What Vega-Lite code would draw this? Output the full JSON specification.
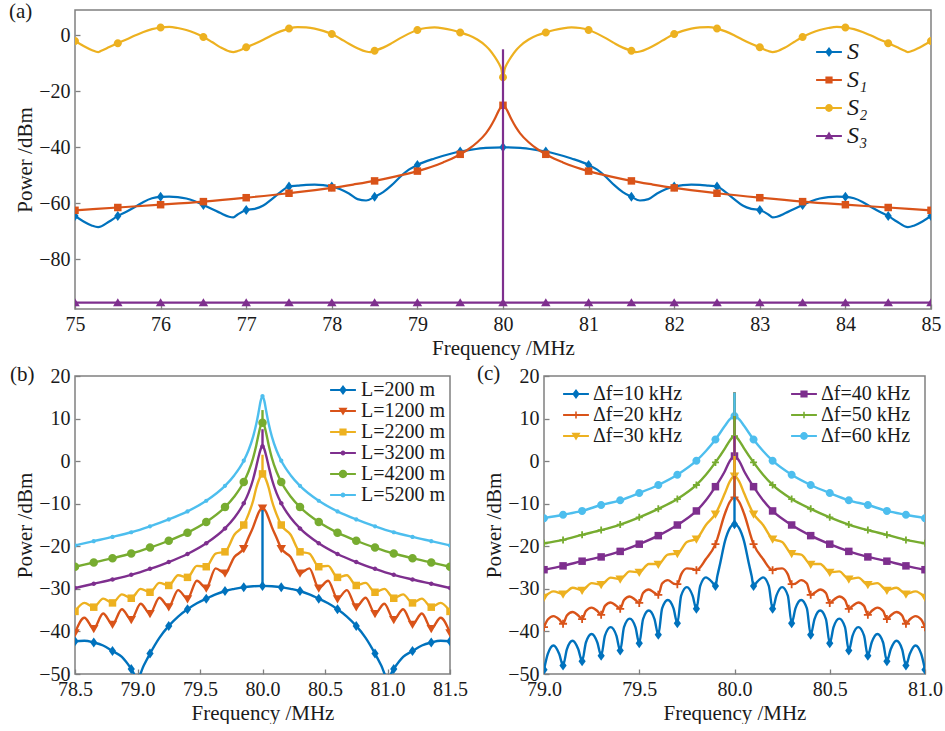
{
"$schema": "https://vega.github.io/schema/vega-lite/v6.json",
"background": "white",
"padding": {"left": 8, "top": 0, "right": 0, "bottom": 0},
"spacing": 3,
"resolve": {"scale": {"color": "independent", "shape": "independent"}, "legend": {"color": "independent", "shape": "independent"}},
"config": {
  "font": "Liberation Serif",
  "view": {"stroke": "#808080", "strokeWidth": 1.5},
  "axis": {"grid": false, "domain": false, "ticks": true, "tickSize": -5, "tickColor": "#808080", "tickWidth": 1.3,
    "labelFont": "Liberation Serif", "labelFontSize": 20, "labelColor": "#1a1a1a", "labelPadding": 10,
    "titleFont": "Liberation Serif", "titleFontSize": 21, "titleFontWeight": "normal", "titleColor": "#1a1a1a", "titlePadding": 3,
    "labelFlush": false, "labelOverlap": false},
  "legend": {"padding": 0, "symbolSize": 144, "labelFont": "Liberation Serif", "labelColor": "#1a1a1a", "labelOffset": 10, "symbolOpacity": 1, "symbolStrokeWidth": 0},
  "title": {"anchor": "start", "frame": "group", "font": "Liberation Serif", "fontSize": 21, "fontWeight": "normal", "color": "#1a1a1a", "baseline": "alphabetic"}
},
"datasets": {
"a": [
{"s":"S","f":75.0,"p":-64.5},{"s":"S","f":75.1,"p":-66.5},{"s":"S","f":75.2,"p":-68},{"s":"S","f":75.27,"p":-68.5},{"s":"S","f":75.4,"p":-66.5},{"s":"S","f":75.5,"p":-64.5},{"s":"S","f":75.6,"p":-63},{"s":"S","f":75.7,"p":-61.3},{"s":"S","f":75.8,"p":-59.5},{"s":"S","f":75.9,"p":-58.2},{"s":"S","f":76.0,"p":-57.7},{"s":"S","f":76.1,"p":-57.6},{"s":"S","f":76.2,"p":-57.8},{"s":"S","f":76.3,"p":-58.3},{"s":"S","f":76.4,"p":-59.3},{"s":"S","f":76.5,"p":-60.6},{"s":"S","f":76.6,"p":-62},{"s":"S","f":76.7,"p":-63.5},{"s":"S","f":76.8,"p":-64.8},{"s":"S","f":76.85,"p":-65},{"s":"S","f":76.9,"p":-64},{"s":"S","f":77.0,"p":-62.4},{"s":"S","f":77.1,"p":-62},{"s":"S","f":77.2,"p":-60.8},{"s":"S","f":77.3,"p":-58.5},{"s":"S","f":77.4,"p":-56},{"s":"S","f":77.5,"p":-54},{"s":"S","f":77.6,"p":-53.7},{"s":"S","f":77.7,"p":-53.4},{"s":"S","f":77.8,"p":-53.3},{"s":"S","f":77.9,"p":-53.5},{"s":"S","f":78.0,"p":-54},{"s":"S","f":78.1,"p":-55},{"s":"S","f":78.2,"p":-56.5},{"s":"S","f":78.3,"p":-58.5},{"s":"S","f":78.4,"p":-59},{"s":"S","f":78.5,"p":-57.7},{"s":"S","f":78.6,"p":-56},{"s":"S","f":78.7,"p":-53.5},{"s":"S","f":78.8,"p":-50.5},{"s":"S","f":78.9,"p":-48},{"s":"S","f":79.0,"p":-46.3},{"s":"S","f":79.2,"p":-44},{"s":"S","f":79.4,"p":-42.2},{"s":"S","f":79.5,"p":-41.5},{"s":"S","f":79.6,"p":-41},{"s":"S","f":79.8,"p":-40.2},{"s":"S","f":80.0,"p":-40},
{"s":"S","f":80.2,"p":-40.2},{"s":"S","f":80.4,"p":-41},{"s":"S","f":80.5,"p":-41.5},{"s":"S","f":80.6,"p":-42.2},{"s":"S","f":80.8,"p":-44},{"s":"S","f":81.0,"p":-46.3},{"s":"S","f":81.1,"p":-48},{"s":"S","f":81.2,"p":-50.5},{"s":"S","f":81.3,"p":-53.5},{"s":"S","f":81.4,"p":-56},{"s":"S","f":81.5,"p":-57.7},{"s":"S","f":81.6,"p":-59},{"s":"S","f":81.7,"p":-58.5},{"s":"S","f":81.8,"p":-56.5},{"s":"S","f":81.9,"p":-55},{"s":"S","f":82.0,"p":-54},{"s":"S","f":82.1,"p":-53.5},{"s":"S","f":82.2,"p":-53.3},{"s":"S","f":82.3,"p":-53.4},{"s":"S","f":82.4,"p":-53.7},{"s":"S","f":82.5,"p":-54},{"s":"S","f":82.6,"p":-56},{"s":"S","f":82.7,"p":-58.5},{"s":"S","f":82.8,"p":-60.8},{"s":"S","f":82.9,"p":-62},{"s":"S","f":83.0,"p":-62.4},{"s":"S","f":83.1,"p":-64},{"s":"S","f":83.15,"p":-65},{"s":"S","f":83.2,"p":-64.8},{"s":"S","f":83.3,"p":-63.5},{"s":"S","f":83.4,"p":-62},{"s":"S","f":83.5,"p":-60.6},{"s":"S","f":83.6,"p":-59.3},{"s":"S","f":83.7,"p":-58.3},{"s":"S","f":83.8,"p":-57.8},{"s":"S","f":83.9,"p":-57.6},{"s":"S","f":84.0,"p":-57.7},{"s":"S","f":84.1,"p":-58.2},{"s":"S","f":84.2,"p":-59.5},{"s":"S","f":84.3,"p":-61.3},{"s":"S","f":84.4,"p":-63},{"s":"S","f":84.5,"p":-64.5},{"s":"S","f":84.6,"p":-66.5},{"s":"S","f":84.73,"p":-68.5},{"s":"S","f":84.8,"p":-68},{"s":"S","f":84.9,"p":-66.5},{"s":"S","f":85.0,"p":-64.5},
{"s":"S₁","f":75.0,"p":-62.5},{"s":"S₁","f":75.5,"p":-61.5},{"s":"S₁","f":76.0,"p":-60.5},{"s":"S₁","f":76.5,"p":-59.4},{"s":"S₁","f":77.0,"p":-58},{"s":"S₁","f":77.5,"p":-56.4},{"s":"S₁","f":78.0,"p":-54.5},{"s":"S₁","f":78.25,"p":-53.3},{"s":"S₁","f":78.5,"p":-52},{"s":"S₁","f":78.75,"p":-50.4},{"s":"S₁","f":79.0,"p":-48.5},{"s":"S₁","f":79.1,"p":-47.6},{"s":"S₁","f":79.2,"p":-46.6},{"s":"S₁","f":79.3,"p":-45.4},{"s":"S₁","f":79.4,"p":-44.1},{"s":"S₁","f":79.5,"p":-42.5},{"s":"S₁","f":79.6,"p":-40.6},{"s":"S₁","f":79.7,"p":-38.2},{"s":"S₁","f":79.8,"p":-35},{"s":"S₁","f":79.85,"p":-32.8},{"s":"S₁","f":79.9,"p":-30.1},{"s":"S₁","f":79.95,"p":-26.9},{"s":"S₁","f":79.98,"p":-25.4},{"s":"S₁","f":80.0,"p":-25},{"s":"S₁","f":80.02,"p":-25.4},{"s":"S₁","f":80.05,"p":-26.9},{"s":"S₁","f":80.1,"p":-30.1},{"s":"S₁","f":80.15,"p":-32.8},{"s":"S₁","f":80.2,"p":-35},{"s":"S₁","f":80.3,"p":-38.2},{"s":"S₁","f":80.4,"p":-40.6},{"s":"S₁","f":80.5,"p":-42.5},{"s":"S₁","f":80.6,"p":-44.1},{"s":"S₁","f":80.7,"p":-45.4},{"s":"S₁","f":80.8,"p":-46.6},{"s":"S₁","f":80.9,"p":-47.6},{"s":"S₁","f":81.0,"p":-48.5},{"s":"S₁","f":81.25,"p":-50.4},{"s":"S₁","f":81.5,"p":-52},{"s":"S₁","f":81.75,"p":-53.3},{"s":"S₁","f":82.0,"p":-54.5},{"s":"S₁","f":82.5,"p":-56.4},{"s":"S₁","f":83.0,"p":-58},{"s":"S₁","f":83.5,"p":-59.4},{"s":"S₁","f":84.0,"p":-60.5},{"s":"S₁","f":84.5,"p":-61.5},{"s":"S₁","f":85.0,"p":-62.5},
{"s":"S₂","f":75.0,"p":-2.0},{"s":"S₂","f":75.1,"p":-3.8},{"s":"S₂","f":75.2,"p":-5.3},{"s":"S₂","f":75.27,"p":-6.0},{"s":"S₂","f":75.3,"p":-5.6},{"s":"S₂","f":75.4,"p":-4.2},{"s":"S₂","f":75.5,"p":-2.8},{"s":"S₂","f":75.6,"p":-1.5},{"s":"S₂","f":75.7,"p":-0.1},{"s":"S₂","f":75.8,"p":1.2},{"s":"S₂","f":75.9,"p":2.2},{"s":"S₂","f":76.0,"p":2.8},{"s":"S₂","f":76.1,"p":3.0},{"s":"S₂","f":76.2,"p":2.6},{"s":"S₂","f":76.3,"p":1.9},{"s":"S₂","f":76.4,"p":0.8},{"s":"S₂","f":76.5,"p":-0.6},{"s":"S₂","f":76.6,"p":-2.4},{"s":"S₂","f":76.7,"p":-4.3},{"s":"S₂","f":76.8,"p":-5.7},{"s":"S₂","f":76.85,"p":-6.0},{"s":"S₂","f":76.9,"p":-5.6},{"s":"S₂","f":77.0,"p":-4.3},{"s":"S₂","f":77.1,"p":-3.0},{"s":"S₂","f":77.2,"p":-1.6},{"s":"S₂","f":77.3,"p":0.0},{"s":"S₂","f":77.4,"p":1.4},{"s":"S₂","f":77.5,"p":2.4},{"s":"S₂","f":77.6,"p":2.9},{"s":"S₂","f":77.7,"p":2.8},{"s":"S₂","f":77.8,"p":2.4},{"s":"S₂","f":77.9,"p":1.6},{"s":"S₂","f":78.0,"p":0.5},{"s":"S₂","f":78.1,"p":-1.2},{"s":"S₂","f":78.2,"p":-3.0},{"s":"S₂","f":78.3,"p":-4.6},{"s":"S₂","f":78.4,"p":-5.8},{"s":"S₂","f":78.45,"p":-6.0},{"s":"S₂","f":78.5,"p":-5.5},{"s":"S₂","f":78.6,"p":-4.4},{"s":"S₂","f":78.7,"p":-2.8},{"s":"S₂","f":78.8,"p":-1.0},{"s":"S₂","f":78.9,"p":0.6},{"s":"S₂","f":79.0,"p":1.9},{"s":"S₂","f":79.1,"p":2.6},{"s":"S₂","f":79.2,"p":2.8},{"s":"S₂","f":79.3,"p":2.5},{"s":"S₂","f":79.4,"p":1.9},{"s":"S₂","f":79.5,"p":1.0},{"s":"S₂","f":79.6,"p":0.0},{"s":"S₂","f":79.7,"p":-1.5},{"s":"S₂","f":79.8,"p":-3.8},{"s":"S₂","f":79.85,"p":-5.4},{"s":"S₂","f":79.9,"p":-7.5},{"s":"S₂","f":79.95,"p":-10},{"s":"S₂","f":79.98,"p":-12},{"s":"S₂","f":80.0,"p":-15},
{"s":"S₂","f":80.02,"p":-12},{"s":"S₂","f":80.05,"p":-10},{"s":"S₂","f":80.1,"p":-7.5},{"s":"S₂","f":80.15,"p":-5.4},{"s":"S₂","f":80.2,"p":-3.8},{"s":"S₂","f":80.3,"p":-1.5},{"s":"S₂","f":80.4,"p":0.0},{"s":"S₂","f":80.5,"p":1.0},{"s":"S₂","f":80.6,"p":1.9},{"s":"S₂","f":80.7,"p":2.5},{"s":"S₂","f":80.8,"p":2.8},{"s":"S₂","f":80.9,"p":2.6},{"s":"S₂","f":81.0,"p":1.9},{"s":"S₂","f":81.1,"p":0.6},{"s":"S₂","f":81.2,"p":-1.0},{"s":"S₂","f":81.3,"p":-2.8},{"s":"S₂","f":81.4,"p":-4.4},{"s":"S₂","f":81.5,"p":-5.5},{"s":"S₂","f":81.55,"p":-6.0},{"s":"S₂","f":81.6,"p":-5.8},{"s":"S₂","f":81.7,"p":-4.6},{"s":"S₂","f":81.8,"p":-3.0},{"s":"S₂","f":81.9,"p":-1.2},{"s":"S₂","f":82.0,"p":0.5},{"s":"S₂","f":82.1,"p":1.6},{"s":"S₂","f":82.2,"p":2.4},{"s":"S₂","f":82.3,"p":2.8},{"s":"S₂","f":82.4,"p":2.9},{"s":"S₂","f":82.5,"p":2.4},{"s":"S₂","f":82.6,"p":1.4},{"s":"S₂","f":82.7,"p":0.0},{"s":"S₂","f":82.8,"p":-1.6},{"s":"S₂","f":82.9,"p":-3.0},{"s":"S₂","f":83.0,"p":-4.3},{"s":"S₂","f":83.1,"p":-5.6},{"s":"S₂","f":83.15,"p":-6.0},{"s":"S₂","f":83.2,"p":-5.7},{"s":"S₂","f":83.3,"p":-4.3},{"s":"S₂","f":83.4,"p":-2.4},{"s":"S₂","f":83.5,"p":-0.6},{"s":"S₂","f":83.6,"p":0.8},{"s":"S₂","f":83.7,"p":1.9},{"s":"S₂","f":83.8,"p":2.6},{"s":"S₂","f":83.9,"p":3.0},{"s":"S₂","f":84.0,"p":2.8},{"s":"S₂","f":84.1,"p":2.2},{"s":"S₂","f":84.2,"p":1.2},{"s":"S₂","f":84.3,"p":-0.1},{"s":"S₂","f":84.4,"p":-1.5},{"s":"S₂","f":84.5,"p":-2.8},{"s":"S₂","f":84.6,"p":-4.2},{"s":"S₂","f":84.7,"p":-5.6},{"s":"S₂","f":84.73,"p":-6.0},{"s":"S₂","f":84.8,"p":-5.3},{"s":"S₂","f":84.9,"p":-3.8},{"s":"S₂","f":85.0,"p":-2.0},
{"s":"S₃","f":75.0,"p":-95.5},{"s":"S₃","f":75.5,"p":-95.5},{"s":"S₃","f":76.0,"p":-95.5},{"s":"S₃","f":76.5,"p":-95.5},{"s":"S₃","f":77.0,"p":-95.5},{"s":"S₃","f":77.5,"p":-95.5},{"s":"S₃","f":78.0,"p":-95.5},{"s":"S₃","f":78.5,"p":-95.5},{"s":"S₃","f":79.0,"p":-95.5},{"s":"S₃","f":79.5,"p":-95.5},{"s":"S₃","f":80.0,"p":-95.5},{"s":"S₃","f":80.5,"p":-95.5},{"s":"S₃","f":81.0,"p":-95.5},{"s":"S₃","f":81.5,"p":-95.5},{"s":"S₃","f":82.0,"p":-95.5},{"s":"S₃","f":82.5,"p":-95.5},{"s":"S₃","f":83.0,"p":-95.5},{"s":"S₃","f":83.5,"p":-95.5},{"s":"S₃","f":84.0,"p":-95.5},{"s":"S₃","f":84.5,"p":-95.5},{"s":"S₃","f":85.0,"p":-95.5}
],
"aSpike": [{"s":"S₃","f":80,"p":-95.5,"p2":-5}],
"b": [
{"s":"200","f":78.5,"p":-42.3},{"s":"200","f":78.575,"p":-42.2},{"s":"200","f":78.65,"p":-42.6},{"s":"200","f":78.725,"p":-43.3},{"s":"200","f":78.8,"p":-44.6},{"s":"200","f":78.875,"p":-46},{"s":"200","f":78.95,"p":-48.8},{"s":"200","f":79.0,"p":-51},{"s":"200","f":79.05,"p":-48},{"s":"200","f":79.1,"p":-45.2},{"s":"200","f":79.175,"p":-41.5},{"s":"200","f":79.25,"p":-38.7},{"s":"200","f":79.325,"p":-36.5},{"s":"200","f":79.4,"p":-34.8},{"s":"200","f":79.475,"p":-33.4},{"s":"200","f":79.55,"p":-32.3},{"s":"200","f":79.625,"p":-31.3},{"s":"200","f":79.7,"p":-30.5},{"s":"200","f":79.775,"p":-30.0},{"s":"200","f":79.85,"p":-29.6},{"s":"200","f":79.925,"p":-29.4},{"s":"200","f":80.0,"p":-29.3},{"s":"200","f":80.075,"p":-29.4},{"s":"200","f":80.15,"p":-29.6},{"s":"200","f":80.225,"p":-30.0},{"s":"200","f":80.3,"p":-30.5},{"s":"200","f":80.375,"p":-31.3},{"s":"200","f":80.45,"p":-32.3},{"s":"200","f":80.525,"p":-33.4},{"s":"200","f":80.6,"p":-34.8},{"s":"200","f":80.675,"p":-36.5},{"s":"200","f":80.75,"p":-38.7},{"s":"200","f":80.825,"p":-41.5},{"s":"200","f":80.9,"p":-45.2},{"s":"200","f":80.95,"p":-48},{"s":"200","f":81.0,"p":-51},{"s":"200","f":81.05,"p":-48.8},{"s":"200","f":81.125,"p":-46},{"s":"200","f":81.2,"p":-44.6},{"s":"200","f":81.275,"p":-43.3},{"s":"200","f":81.35,"p":-42.6},{"s":"200","f":81.425,"p":-42.2},{"s":"200","f":81.5,"p":-42.3},
{"s":"1200","f":78.5,"p":-40.3},{"s":"1200","f":78.575,"p":-36.8},{"s":"1200","f":78.65,"p":-39.3},{"s":"1200","f":78.725,"p":-35.8},{"s":"1200","f":78.8,"p":-38.3},{"s":"1200","f":78.875,"p":-34.8},{"s":"1200","f":78.95,"p":-37.2},{"s":"1200","f":79.025,"p":-33.5},{"s":"1200","f":79.1,"p":-35.8},{"s":"1200","f":79.175,"p":-32.1},{"s":"1200","f":79.25,"p":-34.2},{"s":"1200","f":79.325,"p":-30.3},{"s":"1200","f":79.4,"p":-32.3},{"s":"1200","f":79.475,"p":-28.1},{"s":"1200","f":79.55,"p":-29.8},{"s":"1200","f":79.625,"p":-25.2},{"s":"1200","f":79.7,"p":-26.3},{"s":"1200","f":79.775,"p":-22.5},{"s":"1200","f":79.85,"p":-20.5},{"s":"1200","f":79.8875,"p":-18},{"s":"1200","f":79.925,"p":-15.5},{"s":"1200","f":79.95,"p":-13.5},{"s":"1200","f":79.97,"p":-12},{"s":"1200","f":79.985,"p":-11.3},{"s":"1200","f":80.0,"p":-11},{"s":"1200","f":80.015,"p":-11.3},{"s":"1200","f":80.03,"p":-12},{"s":"1200","f":80.05,"p":-13.5},{"s":"1200","f":80.075,"p":-15.5},{"s":"1200","f":80.1125,"p":-18},{"s":"1200","f":80.15,"p":-20.5},{"s":"1200","f":80.225,"p":-22.5},{"s":"1200","f":80.3,"p":-26.3},{"s":"1200","f":80.375,"p":-25.2},{"s":"1200","f":80.45,"p":-29.8},{"s":"1200","f":80.525,"p":-28.1},{"s":"1200","f":80.6,"p":-32.3},{"s":"1200","f":80.675,"p":-30.3},{"s":"1200","f":80.75,"p":-34.2},{"s":"1200","f":80.825,"p":-32.1},{"s":"1200","f":80.9,"p":-35.8},{"s":"1200","f":80.975,"p":-33.5},{"s":"1200","f":81.05,"p":-37.2},{"s":"1200","f":81.125,"p":-34.8},{"s":"1200","f":81.2,"p":-38.3},{"s":"1200","f":81.275,"p":-35.8},{"s":"1200","f":81.35,"p":-39.3},{"s":"1200","f":81.425,"p":-36.8},{"s":"1200","f":81.5,"p":-40.3},
{"s":"2200","f":78.5,"p":-35.3},{"s":"2200","f":78.575,"p":-33.3},{"s":"2200","f":78.65,"p":-34.3},{"s":"2200","f":78.725,"p":-32.3},{"s":"2200","f":78.8,"p":-33.3},{"s":"2200","f":78.875,"p":-31.3},{"s":"2200","f":78.95,"p":-32.2},{"s":"2200","f":79.025,"p":-30.0},{"s":"2200","f":79.1,"p":-30.8},{"s":"2200","f":79.175,"p":-28.6},{"s":"2200","f":79.25,"p":-29.2},{"s":"2200","f":79.325,"p":-26.8},{"s":"2200","f":79.4,"p":-27.3},{"s":"2200","f":79.475,"p":-24.6},{"s":"2200","f":79.55,"p":-24.8},{"s":"2200","f":79.625,"p":-21.7},{"s":"2200","f":79.7,"p":-21.3},{"s":"2200","f":79.775,"p":-17.3},{"s":"2200","f":79.85,"p":-15.0},{"s":"2200","f":79.8875,"p":-12.5},{"s":"2200","f":79.925,"p":-9.3},{"s":"2200","f":79.95,"p":-6.3},{"s":"2200","f":79.97,"p":-4.5},{"s":"2200","f":79.985,"p":-3.5},{"s":"2200","f":80.0,"p":-3.0},{"s":"2200","f":80.015,"p":-3.5},{"s":"2200","f":80.03,"p":-4.5},{"s":"2200","f":80.05,"p":-6.3},{"s":"2200","f":80.075,"p":-9.3},{"s":"2200","f":80.1125,"p":-12.5},{"s":"2200","f":80.15,"p":-15.0},{"s":"2200","f":80.225,"p":-17.3},{"s":"2200","f":80.3,"p":-21.3},{"s":"2200","f":80.375,"p":-21.7},{"s":"2200","f":80.45,"p":-24.8},{"s":"2200","f":80.525,"p":-24.6},{"s":"2200","f":80.6,"p":-27.3},{"s":"2200","f":80.675,"p":-26.8},{"s":"2200","f":80.75,"p":-29.2},{"s":"2200","f":80.825,"p":-28.6},{"s":"2200","f":80.9,"p":-30.8},{"s":"2200","f":80.975,"p":-30.0},{"s":"2200","f":81.05,"p":-32.2},{"s":"2200","f":81.125,"p":-31.3},{"s":"2200","f":81.2,"p":-33.3},{"s":"2200","f":81.275,"p":-32.3},{"s":"2200","f":81.35,"p":-34.3},{"s":"2200","f":81.425,"p":-33.3},{"s":"2200","f":81.5,"p":-35.3},
{"s":"3200","f":78.5,"p":-29.8},{"s":"3200","f":78.65,"p":-28.8},{"s":"3200","f":78.8,"p":-27.8},{"s":"3200","f":78.95,"p":-26.7},{"s":"3200","f":79.1,"p":-25.3},{"s":"3200","f":79.25,"p":-23.7},{"s":"3200","f":79.4,"p":-21.8},{"s":"3200","f":79.55,"p":-19.3},{"s":"3200","f":79.7,"p":-15.8},{"s":"3200","f":79.775,"p":-13.3},{"s":"3200","f":79.85,"p":-9.9},{"s":"3200","f":79.8875,"p":-7.5},{"s":"3200","f":79.925,"p":-4.25},{"s":"3200","f":79.95,"p":-1.3},{"s":"3200","f":79.97,"p":1.2},{"s":"3200","f":79.985,"p":2.8},{"s":"3200","f":80.0,"p":3.5},{"s":"3200","f":80.015,"p":2.8},{"s":"3200","f":80.03,"p":1.2},{"s":"3200","f":80.05,"p":-1.3},{"s":"3200","f":80.075,"p":-4.25},{"s":"3200","f":80.1125,"p":-7.5},{"s":"3200","f":80.15,"p":-9.9},{"s":"3200","f":80.225,"p":-13.3},{"s":"3200","f":80.3,"p":-15.8},{"s":"3200","f":80.45,"p":-19.3},{"s":"3200","f":80.6,"p":-21.8},{"s":"3200","f":80.75,"p":-23.7},{"s":"3200","f":80.9,"p":-25.3},{"s":"3200","f":81.05,"p":-26.7},{"s":"3200","f":81.2,"p":-27.8},{"s":"3200","f":81.35,"p":-28.8},{"s":"3200","f":81.5,"p":-29.8},
{"s":"4200","f":78.5,"p":-24.8},{"s":"4200","f":78.65,"p":-23.8},{"s":"4200","f":78.8,"p":-22.8},{"s":"4200","f":78.95,"p":-21.7},{"s":"4200","f":79.1,"p":-20.3},{"s":"4200","f":79.25,"p":-18.7},{"s":"4200","f":79.4,"p":-16.8},{"s":"4200","f":79.55,"p":-14.3},{"s":"4200","f":79.7,"p":-10.8},{"s":"4200","f":79.775,"p":-8.3},{"s":"4200","f":79.85,"p":-4.9},{"s":"4200","f":79.8875,"p":-2.5},{"s":"4200","f":79.925,"p":0.75},{"s":"4200","f":79.95,"p":3.7},{"s":"4200","f":79.97,"p":6.5},{"s":"4200","f":79.985,"p":8.3},{"s":"4200","f":80.0,"p":9},{"s":"4200","f":80.015,"p":8.3},{"s":"4200","f":80.03,"p":6.5},{"s":"4200","f":80.05,"p":3.7},{"s":"4200","f":80.075,"p":0.75},{"s":"4200","f":80.1125,"p":-2.5},{"s":"4200","f":80.15,"p":-4.9},{"s":"4200","f":80.225,"p":-8.3},{"s":"4200","f":80.3,"p":-10.8},{"s":"4200","f":80.45,"p":-14.3},{"s":"4200","f":80.6,"p":-16.8},{"s":"4200","f":80.75,"p":-18.7},{"s":"4200","f":80.9,"p":-20.3},{"s":"4200","f":81.05,"p":-21.7},{"s":"4200","f":81.2,"p":-22.8},{"s":"4200","f":81.35,"p":-23.8},{"s":"4200","f":81.5,"p":-24.8},
{"s":"5200","f":78.5,"p":-19.8},{"s":"5200","f":78.65,"p":-18.8},{"s":"5200","f":78.8,"p":-17.8},{"s":"5200","f":78.95,"p":-16.7},{"s":"5200","f":79.1,"p":-15.3},{"s":"5200","f":79.25,"p":-13.7},{"s":"5200","f":79.4,"p":-11.8},{"s":"5200","f":79.55,"p":-9.3},{"s":"5200","f":79.7,"p":-5.8},{"s":"5200","f":79.775,"p":-3.3},{"s":"5200","f":79.85,"p":0.1},{"s":"5200","f":79.8875,"p":2.5},{"s":"5200","f":79.925,"p":5.75},{"s":"5200","f":79.95,"p":8.7},{"s":"5200","f":79.97,"p":11.7},{"s":"5200","f":79.985,"p":14.1},{"s":"5200","f":80.0,"p":15.3},{"s":"5200","f":80.015,"p":14.1},{"s":"5200","f":80.03,"p":11.7},{"s":"5200","f":80.05,"p":8.7},{"s":"5200","f":80.075,"p":5.75},{"s":"5200","f":80.1125,"p":2.5},{"s":"5200","f":80.15,"p":0.1},{"s":"5200","f":80.225,"p":-3.3},{"s":"5200","f":80.3,"p":-5.8},{"s":"5200","f":80.45,"p":-9.3},{"s":"5200","f":80.6,"p":-11.8},{"s":"5200","f":80.75,"p":-13.7},{"s":"5200","f":80.9,"p":-15.3},{"s":"5200","f":81.05,"p":-16.7},{"s":"5200","f":81.2,"p":-17.8},{"s":"5200","f":81.35,"p":-18.8},{"s":"5200","f":81.5,"p":-19.8}
],
"bSpike": [{"s":"200","f":80,"p":-29.3,"p2":-11.5},{"s":"2200","f":80,"p":-3,"p2":1.5},{"s":"3200","f":80,"p":3.5,"p2":7.5},{"s":"4200","f":80,"p":9,"p2":12}],
"c": [
{"s":"10","f":79.0,"p":-49.0},{"s":"10","f":79.02,"p":-45.3},{"s":"10","f":79.05,"p":-43.3},{"s":"10","f":79.08,"p":-45.3},{"s":"10","f":79.1,"p":-48.0},{"s":"10","f":79.12,"p":-44.2},{"s":"10","f":79.15,"p":-42.2},{"s":"10","f":79.18,"p":-44.2},{"s":"10","f":79.2,"p":-47.0},{"s":"10","f":79.22,"p":-42.6},{"s":"10","f":79.25,"p":-40.6},{"s":"10","f":79.28,"p":-42.6},{"s":"10","f":79.3,"p":-45.7},{"s":"10","f":79.32,"p":-41.0},{"s":"10","f":79.35,"p":-39.0},{"s":"10","f":79.38,"p":-41.0},{"s":"10","f":79.4,"p":-44.5},{"s":"10","f":79.42,"p":-39.0},{"s":"10","f":79.45,"p":-37.0},{"s":"10","f":79.48,"p":-39.0},{"s":"10","f":79.5,"p":-42.8},{"s":"10","f":79.52,"p":-37.1},{"s":"10","f":79.55,"p":-35.1},{"s":"10","f":79.58,"p":-37.1},{"s":"10","f":79.6,"p":-40.8},{"s":"10","f":79.62,"p":-34.6},{"s":"10","f":79.65,"p":-32.6},{"s":"10","f":79.68,"p":-34.6},{"s":"10","f":79.7,"p":-38.1},{"s":"10","f":79.72,"p":-31.6},{"s":"10","f":79.75,"p":-29.6},{"s":"10","f":79.78,"p":-31.6},{"s":"10","f":79.8,"p":-34.7},{"s":"10","f":79.82,"p":-29.3},{"s":"10","f":79.85,"p":-27.3},{"s":"10","f":79.88,"p":-28.3},{"s":"10","f":79.9,"p":-29.3},{"s":"10","f":79.91,"p":-27.0},{"s":"10","f":79.925,"p":-24.0},{"s":"10","f":79.95,"p":-18.8},{"s":"10","f":79.975,"p":-15.8},{"s":"10","f":80.0,"p":-14.8},
{"s":"10","f":80.025,"p":-15.8},{"s":"10","f":80.05,"p":-18.8},{"s":"10","f":80.075,"p":-24.0},{"s":"10","f":80.09,"p":-27.0},{"s":"10","f":80.1,"p":-29.3},{"s":"10","f":80.12,"p":-28.3},{"s":"10","f":80.15,"p":-27.3},{"s":"10","f":80.18,"p":-29.3},{"s":"10","f":80.2,"p":-34.7},{"s":"10","f":80.22,"p":-31.6},{"s":"10","f":80.25,"p":-29.6},{"s":"10","f":80.28,"p":-31.6},{"s":"10","f":80.3,"p":-38.1},{"s":"10","f":80.32,"p":-34.6},{"s":"10","f":80.35,"p":-32.6},{"s":"10","f":80.38,"p":-34.6},{"s":"10","f":80.4,"p":-40.8},{"s":"10","f":80.42,"p":-37.1},{"s":"10","f":80.45,"p":-35.1},{"s":"10","f":80.48,"p":-37.1},{"s":"10","f":80.5,"p":-42.8},{"s":"10","f":80.52,"p":-39.0},{"s":"10","f":80.55,"p":-37.0},{"s":"10","f":80.58,"p":-39.0},{"s":"10","f":80.6,"p":-44.5},{"s":"10","f":80.62,"p":-41.0},{"s":"10","f":80.65,"p":-39.0},{"s":"10","f":80.68,"p":-41.0},{"s":"10","f":80.7,"p":-45.7},{"s":"10","f":80.72,"p":-42.6},{"s":"10","f":80.75,"p":-40.6},{"s":"10","f":80.78,"p":-42.6},{"s":"10","f":80.8,"p":-47.0},{"s":"10","f":80.82,"p":-44.2},{"s":"10","f":80.85,"p":-42.2},{"s":"10","f":80.88,"p":-44.2},{"s":"10","f":80.9,"p":-48.0},{"s":"10","f":80.92,"p":-45.3},{"s":"10","f":80.95,"p":-43.3},{"s":"10","f":80.98,"p":-45.3},{"s":"10","f":81.0,"p":-49.0},
{"s":"20","f":79.0,"p":-39.0},{"s":"20","f":79.02,"p":-37.2},{"s":"20","f":79.05,"p":-36.4},{"s":"20","f":79.08,"p":-37.2},{"s":"20","f":79.1,"p":-38.2},{"s":"20","f":79.12,"p":-36.25},{"s":"20","f":79.15,"p":-35.45},{"s":"20","f":79.18,"p":-36.25},{"s":"20","f":79.2,"p":-37.1},{"s":"20","f":79.22,"p":-35.2},{"s":"20","f":79.25,"p":-34.4},{"s":"20","f":79.28,"p":-35.2},{"s":"20","f":79.3,"p":-36.1},{"s":"20","f":79.32,"p":-34.0},{"s":"20","f":79.35,"p":-33.2},{"s":"20","f":79.38,"p":-34.0},{"s":"20","f":79.4,"p":-34.7},{"s":"20","f":79.42,"p":-32.6},{"s":"20","f":79.45,"p":-31.8},{"s":"20","f":79.48,"p":-32.6},{"s":"20","f":79.5,"p":-33.3},{"s":"20","f":79.52,"p":-30.95},{"s":"20","f":79.55,"p":-30.15},{"s":"20","f":79.58,"p":-30.95},{"s":"20","f":79.6,"p":-31.4},{"s":"20","f":79.62,"p":-28.75},{"s":"20","f":79.65,"p":-27.95},{"s":"20","f":79.68,"p":-28.75},{"s":"20","f":79.7,"p":-28.9},{"s":"20","f":79.72,"p":-26.6},{"s":"20","f":79.75,"p":-25.2},{"s":"20","f":79.78,"p":-25.3},{"s":"20","f":79.8,"p":-25.6},{"s":"20","f":79.85,"p":-23.0},{"s":"20","f":79.9,"p":-19.5},{"s":"20","f":79.95,"p":-12.3},{"s":"20","f":79.975,"p":-9.6},{"s":"20","f":80.0,"p":-8.5},
{"s":"20","f":80.025,"p":-9.6},{"s":"20","f":80.05,"p":-12.3},{"s":"20","f":80.1,"p":-19.5},{"s":"20","f":80.15,"p":-23.0},{"s":"20","f":80.2,"p":-25.6},{"s":"20","f":80.22,"p":-25.3},{"s":"20","f":80.25,"p":-25.2},{"s":"20","f":80.28,"p":-26.6},{"s":"20","f":80.3,"p":-28.9},{"s":"20","f":80.32,"p":-28.75},{"s":"20","f":80.35,"p":-27.95},{"s":"20","f":80.38,"p":-28.75},{"s":"20","f":80.4,"p":-31.4},{"s":"20","f":80.42,"p":-30.95},{"s":"20","f":80.45,"p":-30.15},{"s":"20","f":80.48,"p":-30.95},{"s":"20","f":80.5,"p":-33.3},{"s":"20","f":80.52,"p":-32.6},{"s":"20","f":80.55,"p":-31.8},{"s":"20","f":80.58,"p":-32.6},{"s":"20","f":80.6,"p":-34.7},{"s":"20","f":80.62,"p":-34.0},{"s":"20","f":80.65,"p":-33.2},{"s":"20","f":80.68,"p":-34.0},{"s":"20","f":80.7,"p":-36.1},{"s":"20","f":80.72,"p":-35.2},{"s":"20","f":80.75,"p":-34.4},{"s":"20","f":80.78,"p":-35.2},{"s":"20","f":80.8,"p":-37.1},{"s":"20","f":80.82,"p":-36.25},{"s":"20","f":80.85,"p":-35.45},{"s":"20","f":80.88,"p":-36.25},{"s":"20","f":80.9,"p":-38.2},{"s":"20","f":80.92,"p":-37.2},{"s":"20","f":80.95,"p":-36.4},{"s":"20","f":80.98,"p":-37.2},{"s":"20","f":81.0,"p":-39.0},
{"s":"30","f":79.0,"p":-32.0},{"s":"30","f":79.05,"p":-30.6},{"s":"30","f":79.1,"p":-31.2},{"s":"30","f":79.15,"p":-29.75},{"s":"30","f":79.2,"p":-30.3},{"s":"30","f":79.25,"p":-28.65},{"s":"30","f":79.3,"p":-29.0},{"s":"30","f":79.35,"p":-27.35},{"s":"30","f":79.4,"p":-27.7},{"s":"30","f":79.45,"p":-25.9},{"s":"30","f":79.5,"p":-26.1},{"s":"30","f":79.55,"p":-24.15},{"s":"30","f":79.6,"p":-24.2},{"s":"30","f":79.65,"p":-21.95},{"s":"30","f":79.7,"p":-21.7},{"s":"30","f":79.75,"p":-19.0},{"s":"30","f":79.8,"p":-18.3},{"s":"30","f":79.85,"p":-15.0},{"s":"30","f":79.9,"p":-12.4},{"s":"30","f":79.95,"p":-7.5},{"s":"30","f":79.975,"p":-4.8},{"s":"30","f":80.0,"p":-3.5},{"s":"30","f":80.025,"p":-4.8},{"s":"30","f":80.05,"p":-7.5},{"s":"30","f":80.1,"p":-12.4},{"s":"30","f":80.15,"p":-15.0},{"s":"30","f":80.2,"p":-18.3},{"s":"30","f":80.25,"p":-19.0},{"s":"30","f":80.3,"p":-21.7},{"s":"30","f":80.35,"p":-21.95},{"s":"30","f":80.4,"p":-24.2},{"s":"30","f":80.45,"p":-24.15},{"s":"30","f":80.5,"p":-26.1},{"s":"30","f":80.55,"p":-25.9},{"s":"30","f":80.6,"p":-27.7},{"s":"30","f":80.65,"p":-27.35},{"s":"30","f":80.7,"p":-29.0},{"s":"30","f":80.75,"p":-28.65},{"s":"30","f":80.8,"p":-30.3},{"s":"30","f":80.85,"p":-29.75},{"s":"30","f":80.9,"p":-31.2},{"s":"30","f":80.95,"p":-30.6},{"s":"30","f":81.0,"p":-32.0},
{"s":"40","f":79.0,"p":-25.5},{"s":"40","f":79.1,"p":-24.6},{"s":"40","f":79.2,"p":-23.5},{"s":"40","f":79.3,"p":-22.5},{"s":"40","f":79.4,"p":-21.2},{"s":"40","f":79.5,"p":-19.5},{"s":"40","f":79.6,"p":-17.5},{"s":"40","f":79.7,"p":-15.0},{"s":"40","f":79.8,"p":-11.7},{"s":"40","f":79.85,"p":-9.2},{"s":"40","f":79.9,"p":-6.0},{"s":"40","f":79.95,"p":-2.3},{"s":"40","f":79.975,"p":0.0},{"s":"40","f":80.0,"p":1.2},{"s":"40","f":80.025,"p":0.0},{"s":"40","f":80.05,"p":-2.3},{"s":"40","f":80.1,"p":-6.0},{"s":"40","f":80.15,"p":-9.2},{"s":"40","f":80.2,"p":-11.7},{"s":"40","f":80.3,"p":-15.0},{"s":"40","f":80.4,"p":-17.5},{"s":"40","f":80.5,"p":-19.5},{"s":"40","f":80.6,"p":-21.2},{"s":"40","f":80.7,"p":-22.5},{"s":"40","f":80.8,"p":-23.5},{"s":"40","f":80.9,"p":-24.6},{"s":"40","f":81.0,"p":-25.5},
{"s":"50","f":79.0,"p":-19.3},{"s":"50","f":79.1,"p":-18.5},{"s":"50","f":79.2,"p":-17.3},{"s":"50","f":79.3,"p":-16.2},{"s":"50","f":79.4,"p":-14.9},{"s":"50","f":79.5,"p":-13.2},{"s":"50","f":79.6,"p":-11.2},{"s":"50","f":79.7,"p":-8.9},{"s":"50","f":79.8,"p":-5.6},{"s":"50","f":79.85,"p":-3.2},{"s":"50","f":79.9,"p":-0.3},{"s":"50","f":79.95,"p":3.0},{"s":"50","f":79.975,"p":4.8},{"s":"50","f":80.0,"p":5.9},{"s":"50","f":80.025,"p":4.8},{"s":"50","f":80.05,"p":3.0},{"s":"50","f":80.1,"p":-0.3},{"s":"50","f":80.15,"p":-3.2},{"s":"50","f":80.2,"p":-5.6},{"s":"50","f":80.3,"p":-8.9},{"s":"50","f":80.4,"p":-11.2},{"s":"50","f":80.5,"p":-13.2},{"s":"50","f":80.6,"p":-14.9},{"s":"50","f":80.7,"p":-16.2},{"s":"50","f":80.8,"p":-17.3},{"s":"50","f":80.9,"p":-18.5},{"s":"50","f":81.0,"p":-19.3},
{"s":"60","f":79.0,"p":-13.4},{"s":"60","f":79.1,"p":-12.6},{"s":"60","f":79.2,"p":-11.7},{"s":"60","f":79.3,"p":-10.3},{"s":"60","f":79.4,"p":-9.2},{"s":"60","f":79.5,"p":-7.5},{"s":"60","f":79.6,"p":-5.6},{"s":"60","f":79.7,"p":-3.2},{"s":"60","f":79.8,"p":0.1},{"s":"60","f":79.85,"p":2.4},{"s":"60","f":79.9,"p":5.1},{"s":"60","f":79.95,"p":8.3},{"s":"60","f":79.975,"p":9.8},{"s":"60","f":80.0,"p":10.6},{"s":"60","f":80.025,"p":9.8},{"s":"60","f":80.05,"p":8.3},{"s":"60","f":80.1,"p":5.1},{"s":"60","f":80.15,"p":2.4},{"s":"60","f":80.2,"p":0.1},{"s":"60","f":80.3,"p":-3.2},{"s":"60","f":80.4,"p":-5.6},{"s":"60","f":80.5,"p":-7.5},{"s":"60","f":80.6,"p":-9.2},{"s":"60","f":80.7,"p":-10.3},{"s":"60","f":80.8,"p":-11.7},{"s":"60","f":80.9,"p":-12.6},{"s":"60","f":81.0,"p":-13.4}
],
"cSpike": [{"s":"10","f":80,"p":-14.8,"p2":16.1},{"s":"20","f":80,"p":-8.5,"p2":16.1},{"s":"30","f":80,"p":-3.5,"p2":16.1},{"s":"40","f":80,"p":1.2,"p2":16.1},{"s":"50","f":80,"p":5.9,"p2":16.1},{"s":"60","f":80,"p":10.6,"p2":16.1}]
},
"vconcat": [
{
  "width": 856, "height": 299,
  "title": {"text": "(a)", "dx": -66, "offset": -12},
  "encoding": {
    "x": {"field": "f", "type": "quantitative", "scale": {"domain": [75, 85], "nice": false, "zero": false}, "axis": {"values": [75,76,77,78,79,80,81,82,83,84,85], "format": "d", "title": "Frequency /MHz"}},
    "y": {"field": "p", "type": "quantitative", "scale": {"domain": [-97.75, 9.04], "nice": false, "zero": false}, "axis": {"values": [-80,-60,-40,-20,0], "format": "d", "title": "Power /dBm"}}
  },
  "layer": [
    {"data": {"name": "a"},
     "mark": {"type": "line", "interpolate": "monotone", "strokeWidth": 2.2, "clip": true},
     "encoding": {"color": {"field": "s", "type": "nominal", "scale": {"domain": ["S","S₁","S₂","S₃"], "range": ["#0072BD","#D95319","#EDB120","#7E2F8E"]},
       "legend": {"title": null, "orient": "none", "legendX": 742, "legendY": 30, "rowPadding": 4, "labelOffset": 6, "labelFontSize": 24, "labelFontStyle": "italic"}}}},
    {"data": {"name": "a"}, "transform": [{"filter": "datum.s == 'S' && abs(datum.f*2 - round(datum.f*2)) < 0.001"}],
     "mark": {"type": "point", "filled": true, "size": 100, "opacity": 1, "strokeWidth": 0, "clip": true, "color": "#0072BD", "shape": "M0,-1L0.72,0L0,1L-0.72,0Z"}},
    {"data": {"name": "a"}, "transform": [{"filter": "datum.s == 'S₁' && abs(datum.f*2 - round(datum.f*2)) < 0.001"}],
     "mark": {"type": "point", "filled": true, "size": 100, "opacity": 1, "strokeWidth": 0, "clip": true, "color": "#D95319", "shape": "M-0.75,-0.75H0.75V0.75H-0.75Z"}},
    {"data": {"name": "a"}, "transform": [{"filter": "datum.s == 'S₂' && abs(datum.f*2 - round(datum.f*2)) < 0.001"}],
     "mark": {"type": "point", "filled": true, "size": 100, "opacity": 1, "strokeWidth": 0, "clip": true, "color": "#EDB120", "shape": "M0.8,0A0.8,0.8,0,1,1,-0.8,0A0.8,0.8,0,1,1,0.8,0Z"}},
    {"data": {"name": "a"}, "transform": [{"filter": "datum.s == 'S₃' && abs(datum.f*2 - round(datum.f*2)) < 0.001"}],
     "mark": {"type": "point", "filled": true, "size": 100, "opacity": 1, "strokeWidth": 0, "clip": true, "color": "#7E2F8E", "shape": "M0,-0.9L0.95,0.7H-0.95Z"}},
    {"data": {"name": "aSpike"},
     "mark": {"type": "rule", "strokeWidth": 2.2, "clip": true},
     "encoding": {"y2": {"field": "p2"}, "color": {"field": "s", "type": "nominal", "legend": null}}},
    {"data": {"name": "a"}, "transform": [{"filter": "datum.f > 79.99 && datum.f < 80.01"}],
     "mark": {"type": "point", "filled": true, "size": 144, "opacity": 0, "strokeWidth": 0},
     "encoding": {
       "color": {"field": "s", "type": "nominal", "legend": null},
       "shape": {"field": "s", "type": "nominal", "legend": null,
         "scale": {"domain": ["S","S₁","S₂","S₃"], "range": ["M-2.15,-0.17H2.15V0.17H-2.15ZM0,-0.85L0.62,0L0,0.85L-0.62,0Z","M-2.15,-0.17H2.15V0.17H-2.15ZM-0.6,-0.6H0.6V0.6H-0.6Z","M-2.15,-0.17H2.15V0.17H-2.15ZM0.65,0A0.65,0.65,0,1,1,-0.65,0A0.65,0.65,0,1,1,0.65,0Z","M-2.15,-0.17H2.15V0.17H-2.15ZM0,-0.75L0.75,0.55H-0.75Z"]}}
     }}
  ]
},
{
  "resolve": {"scale": {"color": "independent", "shape": "independent"}, "legend": {"color": "independent", "shape": "independent"}},
  "hconcat": [
  {
    "width": 375, "height": 298,
    "title": {"text": "(b)", "dx": -65, "offset": -19},
    "encoding": {
      "x": {"field": "f", "type": "quantitative", "scale": {"domain": [78.5, 81.5], "nice": false, "zero": false}, "axis": {"values": [78.5,79,79.5,80,80.5,81,81.5], "format": ".1f", "title": "Frequency /MHz"}},
      "y": {"field": "p", "type": "quantitative", "scale": {"domain": [-50, 20], "nice": false, "zero": false}, "axis": {"values": [-50,-40,-30,-20,-10,0,10,20], "format": "d", "title": "Power /dBm"}}
    },
    "layer": [
      {"data": {"name": "b"},
       "mark": {"type": "line", "interpolate": "monotone", "strokeWidth": 2.4, "clip": true},
       "encoding": {"color": {"field": "s", "type": "nominal", "scale": {"domain": ["200","1200","2200","3200","4200","5200"], "range": ["#0072BD","#D95319","#EDB120","#7E2F8E","#77AC30","#4DBEEE"]},
         "legend": {"title": null, "orient": "none", "legendX": 258, "legendY": 4, "rowPadding": 1, "labelOffset": 8, "labelFontSize": 20, "labelExpr": "'L=' + datum.label + ' m'"}}}},
      {"data": {"name": "b"}, "transform": [{"filter": "datum.s == '200' && abs((datum.f-78.5)/0.15 - round((datum.f-78.5)/0.15)) < 0.01"}],
       "mark": {"type": "point", "filled": true, "size": 100, "opacity": 1, "strokeWidth": 0, "clip": true, "color": "#0072BD", "shape": "M0,-1L0.72,0L0,1L-0.72,0Z"}},
      {"data": {"name": "b"}, "transform": [{"filter": "datum.s == '1200' && abs((datum.f-78.5)/0.15 - round((datum.f-78.5)/0.15)) < 0.01"}],
       "mark": {"type": "point", "filled": true, "size": 100, "opacity": 1, "strokeWidth": 0, "clip": true, "color": "#D95319", "shape": "M0,0.95L-0.95,-0.7H0.95Z"}},
      {"data": {"name": "b"}, "transform": [{"filter": "datum.s == '2200' && abs((datum.f-78.5)/0.15 - round((datum.f-78.5)/0.15)) < 0.01"}],
       "mark": {"type": "point", "filled": true, "size": 100, "opacity": 1, "strokeWidth": 0, "clip": true, "color": "#EDB120", "shape": "M-0.75,-0.75H0.75V0.75H-0.75Z"}},
      {"data": {"name": "b"}, "transform": [{"filter": "datum.s == '3200' && abs((datum.f-78.5)/0.15 - round((datum.f-78.5)/0.15)) < 0.01"}],
       "mark": {"type": "point", "filled": true, "size": 100, "opacity": 1, "strokeWidth": 0, "clip": true, "color": "#7E2F8E", "shape": "M0.45,0A0.45,0.45,0,1,1,-0.45,0A0.45,0.45,0,1,1,0.45,0Z"}},
      {"data": {"name": "b"}, "transform": [{"filter": "datum.s == '4200' && abs((datum.f-78.5)/0.15 - round((datum.f-78.5)/0.15)) < 0.01"}],
       "mark": {"type": "point", "filled": true, "size": 100, "opacity": 1, "strokeWidth": 0, "clip": true, "color": "#77AC30", "shape": "M0.85,0A0.85,0.85,0,1,1,-0.85,0A0.85,0.85,0,1,1,0.85,0Z"}},
      {"data": {"name": "b"}, "transform": [{"filter": "datum.s == '5200' && abs((datum.f-78.5)/0.15 - round((datum.f-78.5)/0.15)) < 0.01"}],
       "mark": {"type": "point", "filled": true, "size": 100, "opacity": 1, "strokeWidth": 0, "clip": true, "color": "#4DBEEE", "shape": "M0.42,0A0.42,0.42,0,1,1,-0.42,0A0.42,0.42,0,1,1,0.42,0Z"}},
      {"data": {"name": "bSpike"},
       "mark": {"type": "rule", "strokeWidth": 2.4, "clip": true},
       "encoding": {"y2": {"field": "p2"}, "color": {"field": "s", "type": "nominal", "legend": null}}},
      {"data": {"name": "b"}, "transform": [{"filter": "datum.f > 79.99 && datum.f < 80.01"}],
       "mark": {"type": "point", "filled": true, "size": 144, "opacity": 0, "strokeWidth": 0},
       "encoding": {
         "color": {"field": "s", "type": "nominal", "legend": null},
         "shape": {"field": "s", "type": "nominal", "legend": null,
           "scale": {"domain": ["200","1200","2200","3200","4200","5200"], "range": ["M-2.15,-0.17H2.15V0.17H-2.15ZM0,-0.85L0.62,0L0,0.85L-0.62,0Z","M-2.15,-0.17H2.15V0.17H-2.15ZM0,0.75L-0.75,-0.55H0.75Z","M-2.15,-0.17H2.15V0.17H-2.15ZM-0.6,-0.6H0.6V0.6H-0.6Z","M-2.15,-0.17H2.15V0.17H-2.15ZM0.4,0A0.4,0.4,0,1,1,-0.4,0A0.4,0.4,0,1,1,0.4,0Z","M-2.15,-0.17H2.15V0.17H-2.15ZM0.7,0A0.7,0.7,0,1,1,-0.7,0A0.7,0.7,0,1,1,0.7,0Z","M-2.15,-0.17H2.15V0.17H-2.15ZM0.4,0A0.4,0.4,0,1,1,-0.4,0A0.4,0.4,0,1,1,0.4,0Z"]}}
       }}
    ]
  },
  {
    "width": 381, "height": 298,
    "title": {"text": "(c)", "dx": -67, "offset": -18},
    "encoding": {
      "x": {"field": "f", "type": "quantitative", "scale": {"domain": [79, 81], "nice": false, "zero": false}, "axis": {"values": [79,79.5,80,80.5,81], "format": ".1f", "title": "Frequency /MHz"}},
      "y": {"field": "p", "type": "quantitative", "scale": {"domain": [-50, 20], "nice": false, "zero": false}, "axis": {"values": [-50,-40,-30,-20,-10,0,10,20], "format": "d", "title": "Power /dBm"}}
    },
    "layer": [
      {"data": {"name": "c"},
       "mark": {"type": "line", "interpolate": "monotone", "strokeWidth": 2.4, "clip": true},
       "encoding": {"color": {"field": "s", "type": "nominal", "scale": {"domain": ["10","20","30","40","50","60"], "range": ["#0072BD","#D95319","#EDB120","#7E2F8E","#77AC30","#4DBEEE"]},
         "legend": {"title": null, "orient": "none", "legendX": 22, "legendY": 8, "rowPadding": 1, "columns": 2, "columnPadding": 108, "labelOffset": 7, "labelFontSize": 20, "labelExpr": "'Δf=' + datum.label + ' kHz'"}}}},
      {"data": {"name": "c"}, "transform": [{"filter": "datum.s == '10' && abs(datum.f*10 - round(datum.f*10)) < 0.01"}],
       "mark": {"type": "point", "filled": true, "size": 100, "opacity": 1, "strokeWidth": 0, "clip": true, "color": "#0072BD", "shape": "M0,-1L0.72,0L0,1L-0.72,0Z"}},
      {"data": {"name": "c"}, "transform": [{"filter": "datum.s == '20' && abs(datum.f*10 - round(datum.f*10)) < 0.01"}],
       "mark": {"type": "point", "filled": true, "size": 100, "opacity": 1, "strokeWidth": 0, "clip": true, "color": "#D95319", "shape": "M-0.8,-0.18H0.8V0.18H-0.8ZM-0.18,-0.8H0.18V0.8H-0.18Z"}},
      {"data": {"name": "c"}, "transform": [{"filter": "datum.s == '30' && abs(datum.f*10 - round(datum.f*10)) < 0.01"}],
       "mark": {"type": "point", "filled": true, "size": 100, "opacity": 1, "strokeWidth": 0, "clip": true, "color": "#EDB120", "shape": "M0,0.95L-0.95,-0.7H0.95Z"}},
      {"data": {"name": "c"}, "transform": [{"filter": "datum.s == '40' && abs(datum.f*10 - round(datum.f*10)) < 0.01"}],
       "mark": {"type": "point", "filled": true, "size": 100, "opacity": 1, "strokeWidth": 0, "clip": true, "color": "#7E2F8E", "shape": "M-0.75,-0.75H0.75V0.75H-0.75Z"}},
      {"data": {"name": "c"}, "transform": [{"filter": "datum.s == '50' && abs(datum.f*10 - round(datum.f*10)) < 0.01"}],
       "mark": {"type": "point", "filled": true, "size": 100, "opacity": 1, "strokeWidth": 0, "clip": true, "color": "#77AC30", "shape": "M-0.7,-0.18H0.7V0.18H-0.7ZM-0.18,-0.7H0.18V0.7H-0.18Z"}},
      {"data": {"name": "c"}, "transform": [{"filter": "datum.s == '60' && abs(datum.f*10 - round(datum.f*10)) < 0.01"}],
       "mark": {"type": "point", "filled": true, "size": 100, "opacity": 1, "strokeWidth": 0, "clip": true, "color": "#4DBEEE", "shape": "M0.8,0A0.8,0.8,0,1,1,-0.8,0A0.8,0.8,0,1,1,0.8,0Z"}},
      {"data": {"name": "cSpike"},
       "mark": {"type": "rule", "strokeWidth": 2.4, "clip": true},
       "encoding": {"y2": {"field": "p2"}, "color": {"field": "s", "type": "nominal", "legend": null}}},
      {"data": {"name": "c"}, "transform": [{"filter": "datum.f > 79.99 && datum.f < 80.01"}],
       "mark": {"type": "point", "filled": true, "size": 144, "opacity": 0, "strokeWidth": 0},
       "encoding": {
         "color": {"field": "s", "type": "nominal", "legend": null},
         "shape": {"field": "s", "type": "nominal", "legend": null,
           "scale": {"domain": ["10","20","30","40","50","60"], "range": ["M-2.15,-0.17H2.15V0.17H-2.15ZM0,-0.85L0.62,0L0,0.85L-0.62,0Z","M-2.15,-0.17H2.15V0.17H-2.15ZM-0.6,-0.13H0.6V0.13H-0.6ZM-0.13,-0.6H0.13V0.6H-0.13Z","M-2.15,-0.17H2.15V0.17H-2.15ZM0,0.75L-0.75,-0.55H0.75Z","M-2.15,-0.17H2.15V0.17H-2.15ZM-0.6,-0.6H0.6V0.6H-0.6Z","M-2.15,-0.17H2.15V0.17H-2.15ZM-0.55,-0.13H0.55V0.13H-0.55ZM-0.13,-0.55H0.13V0.55H-0.13Z","M-2.15,-0.17H2.15V0.17H-2.15ZM0.65,0A0.65,0.65,0,1,1,-0.65,0A0.65,0.65,0,1,1,0.65,0Z"]}}
       }}
    ]
  }
  ],
  "spacing": 7
}
]
}
